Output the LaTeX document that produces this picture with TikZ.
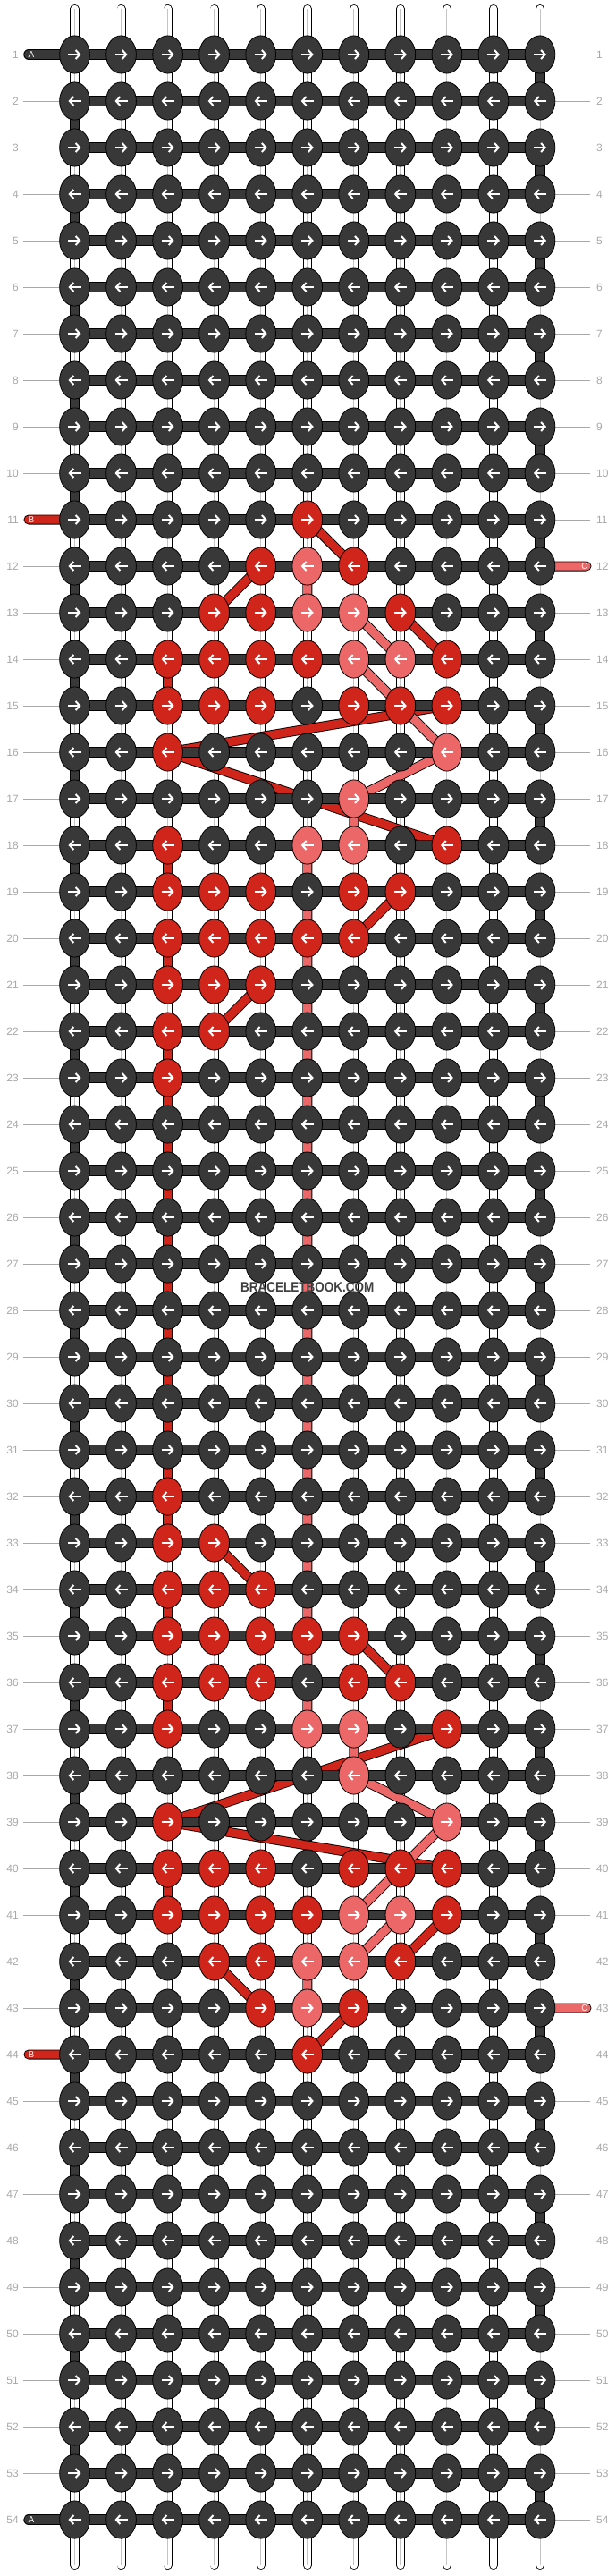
\documentclass[tikz,border=0pt]{standalone}
\usepackage{fontspec}
\setmainfont{Liberation Sans}
\usepackage{xcolor}
\usepackage{tikz}
\usetikzlibrary{arrows.meta}
\usetikzlibrary{shapes.geometric}
\definecolor{tdark}{HTML}{383838}
\definecolor{tred}{HTML}{D0251A}
\definecolor{tpink}{HTML}{EC6868}
\definecolor{lblgray}{HTML}{A8A8A8}
\definecolor{strgray}{HTML}{C4C4C4}
\definecolor{wmgray}{HTML}{404040}
\pgfdeclarelayer{strings}
\pgfdeclarelayer{threads}
\pgfsetlayers{strings,threads,main}
\tikzset{
  knot/.style n args={3}{ellipse, draw=black, line width=0.8pt, inner sep=0pt,
    minimum width=33.7pt, minimum height=42.2pt, fill=#1,
    path picture={\draw[white, line width=2pt, -{Straight Barb[length=4.5pt,width=10pt]}]
      ([xshift=#2]path picture bounding box.center) -- ([xshift=#3]path picture bounding box.center);}},
  thread/.style={draw=black, line width=0.9pt, double=#1, double distance=9.2pt, line join=round, line cap=round},
  basestring/.style={draw=black, line width=0.8pt, double=white, double distance=8.4pt, line cap=round},
  lbl/.style={text=lblgray, font=\fontsize{12}{14}\selectfont, inner sep=2pt},
  lblline/.style={draw=lblgray, line width=0.8pt},
  tagtext/.style={text=white, font=\fontsize{10}{11}\selectfont, inner sep=0pt},
}

\begin{document}
\begin{tikzpicture}[x=52.05pt,y=-52pt]
\useasboundingbox ([xshift=-83.5pt,yshift=61pt]0,1) rectangle ++(688pt,-2880pt);

% coloured knots, rows 32-44 mirror rows 11-23
\foreach \x/\y/\k in {5/11/tred,
    4/12/tred, 5/12/tpink, 6/12/tred,
    3/13/tred, 4/13/tred, 5/13/tpink, 6/13/tpink, 7/13/tred,
    2/14/tred, 3/14/tred, 4/14/tred, 5/14/tred, 6/14/tpink, 7/14/tpink, 8/14/tred,
    2/15/tred, 3/15/tred, 4/15/tred, 6/15/tred, 7/15/tred, 8/15/tred,
    2/16/tred, 8/16/tpink,
    6/17/tpink,
    2/18/tred, 5/18/tpink, 6/18/tpink, 8/18/tred,
    2/19/tred, 3/19/tred, 4/19/tred, 6/19/tred, 7/19/tred,
    2/20/tred, 3/20/tred, 4/20/tred, 5/20/tred, 6/20/tred,
    2/21/tred, 3/21/tred, 4/21/tred,
    2/22/tred, 3/22/tred,
    2/23/tred}
  {\pgfmathtruncatemacro\ym{55-\y}
   \expandafter\xdef\csname kc-\x-\y\endcsname{\k}
   \expandafter\xdef\csname kc-\x-\ym\endcsname{\k}}

\foreach \y in {1,...,54}{
  \ifodd\y\relax \def\ta{-7pt}\def\tb{7pt}\else \def\ta{7pt}\def\tb{-7pt}\fi
  \foreach \x in {0,...,10}{
    \ifcsname kc-\x-\y\endcsname \edef\kcol{\csname kc-\x-\y\endcsname}\else \def\kcol{tdark}\fi
    \node[knot={\kcol}{\ta}{\tb}] (n-\x-\y) at (\x,\y) {};
  }
  \node[lbl, anchor=east] (ll-\y) at ([xshift=-60.5pt]n-0-\y.center) {\y};
  \node[lbl, anchor=west] (lr-\y) at ([xshift=61pt]n-10-\y.center) {\y};
}

\coordinate (tA1) at ([xshift=-51.5pt]n-0-1.center);
\coordinate (tA54) at ([xshift=-51.5pt]n-0-54.center);
\coordinate (tB11) at ([xshift=-51.5pt]n-0-11.center);
\coordinate (tB44) at ([xshift=-51.5pt]n-0-44.center);
\coordinate (tC12) at ([xshift=52pt]n-10-12.center);
\coordinate (tC43) at ([xshift=52pt]n-10-43.center);
\node[tagtext] (gA1) at ([xshift=-48.5pt]n-0-1.center) {A};
\node[tagtext] (gA54) at ([xshift=-48.5pt]n-0-54.center) {A};
\node[tagtext] (gB11) at ([xshift=-48.5pt]n-0-11.center) {B};
\node[tagtext] (gB44) at ([xshift=-48.5pt]n-0-44.center) {B};
\node[tagtext] (gC12) at ([xshift=50pt]n-10-12.center) {C};
\node[tagtext] (gC43) at ([xshift=50pt]n-10-43.center) {C};

\begin{pgfonlayer}{strings}
\foreach \x in {0,...,10}{
  \coordinate (st-\x) at ([yshift=51pt]n-\x-1.center);
  \coordinate (sb-\x) at ([yshift=-51pt]n-\x-54.center);
  \draw[basestring] (st-\x) -- (sb-\x);
  \draw[strgray, line width=0.9pt] (st-\x) -- (sb-\x);
}
\foreach \a/\b in {2/10, 12/43, 45/53}
  \foreach \y in {\a,...,\b}
    \draw[lblline, shorten <=3pt] (ll-\y) -- (n-0-\y);
\foreach \a/\b in {1/11, 13/42, 44/54}
  \foreach \y in {\a,...,\b}
    \draw[lblline, shorten >=5pt] (n-10-\y) -- (lr-\y);
\end{pgfonlayer}

\begin{pgfonlayer}{threads}
\draw[thread=tred] (tB11) -- (n-5-11.center) -- (n-6-12.center) -- (n-4-12.center)
  -- (n-3-13.center) -- (n-7-13.center) -- (n-8-14.center) -- (n-2-14.center)
  -- (n-2-15.center) -- (n-8-15.center) -- (n-2-16.center) -- (n-8-18.center)
  -- (n-2-18.center) -- (n-2-19.center) -- (n-7-19.center) -- (n-6-20.center)
  -- (n-2-20.center) -- (n-2-21.center) -- (n-4-21.center) -- (n-3-22.center)
  -- (n-2-22.center) -- (n-2-33.center) -- (n-3-33.center) -- (n-4-34.center)
  -- (n-2-34.center) -- (n-2-35.center) -- (n-6-35.center) -- (n-7-36.center)
  -- (n-2-36.center) -- (n-2-37.center) -- (n-8-37.center) -- (n-2-39.center)
  -- (n-8-40.center) -- (n-2-40.center) -- (n-2-41.center) -- (n-8-41.center)
  -- (n-7-42.center) -- (n-3-42.center) -- (n-4-43.center) -- (n-6-43.center)
  -- (n-5-44.center) -- (tB44);
\draw[thread=tpink] (tC12) -- (n-5-12.center) -- (n-5-13.center) -- (n-6-13.center)
  -- (n-7-14.center) -- (n-6-14.center) -- (n-8-16.center) -- (n-6-17.center)
  -- (n-6-18.center) -- (n-5-18.center) -- (n-5-37.center) -- (n-6-37.center)
  -- (n-6-38.center) -- (n-8-39.center) -- (n-6-41.center) -- (n-7-41.center)
  -- (n-6-42.center) -- (n-5-42.center) -- (n-5-43.center) -- (tC43);
\draw[thread=tdark, double distance=9.6pt] (tA1)
  \foreach \y [evaluate=\y as \z using int(\y+1)] in {1,3,...,53}{
    -- (n-0-\y.center) -- (n-10-\y.center) -- (n-10-\z.center) -- (n-0-\z.center)}
  -- (tA54);
\end{pgfonlayer}

\node[text=wmgray, font=\bfseries\fontsize{15.5}{16}\selectfont, inner sep=0pt] (wm) at (5,27.5)
  {\scalebox{0.87}[1]{BRACELETBOOK.COM}};
\end{tikzpicture}
\end{document}
